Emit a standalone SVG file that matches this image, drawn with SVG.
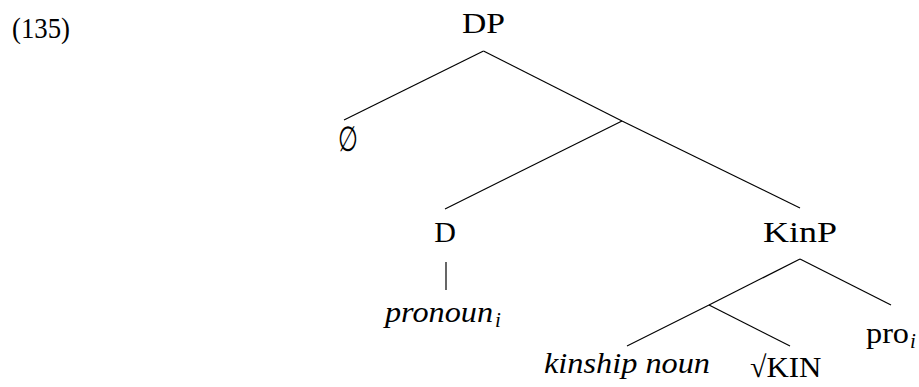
<svg xmlns="http://www.w3.org/2000/svg" width="919" height="387" viewBox="0 0 919 387">
<style>
  .lbl { font-family: 'Liberation Serif', 'Times New Roman', serif; font-size: 30px; fill: #000; }
  .it { font-style: italic; }
  .sub { font-family: 'Liberation Serif', 'Times New Roman', serif; font-size: 21px; font-style: italic; fill: #000; }
  .mid { text-anchor: middle; }
  .edge { stroke: #000; stroke-width: 1.2; }
</style>
<rect width="919" height="387" fill="#fff"/>
<g id="example-number"><text class="lbl" x="12" y="38" textLength="58" lengthAdjust="spacingAndGlyphs">(135)</text></g>
<g id="edges">
  <line class="edge" x1="483.5" y1="51" x2="344" y2="120"/>
  <line class="edge" x1="483.5" y1="51" x2="622" y2="121"/>
  <line class="edge" x1="622" y1="121" x2="445" y2="209"/>
  <line class="edge" x1="622" y1="121" x2="800" y2="208"/>
  <line class="edge" x1="446" y1="262" x2="446" y2="290"/>
  <line class="edge" x1="800" y1="259" x2="709" y2="305"/>
  <line class="edge" x1="800" y1="259" x2="891" y2="305"/>
  <line class="edge" x1="709" y1="305" x2="627" y2="346"/>
  <line class="edge" x1="709" y1="305" x2="790" y2="346"/>
</g>
<g id="node-DP"><text class="lbl mid" x="483.5" y="33" textLength="43" lengthAdjust="spacingAndGlyphs">DP</text></g>
<g id="node-empty"><text class="lbl mid" transform="translate(348,151) scale(0.75,1.15)" x="0" y="0">∅</text></g>
<g id="node-D"><text class="lbl mid" x="445" y="242">D</text></g>
<g id="node-KinP"><text class="lbl mid" x="800" y="242" textLength="74" lengthAdjust="spacingAndGlyphs">KinP</text></g>
<g id="node-pronoun">
  <text class="lbl it" x="385" y="322" textLength="108" lengthAdjust="spacingAndGlyphs">pronoun</text>
  <text class="sub" x="495" y="327">i</text>
</g>
<g id="node-pro">
  <text class="lbl" x="866" y="343" textLength="43" lengthAdjust="spacingAndGlyphs">pro</text>
  <text class="sub" x="910" y="348">i</text>
</g>
<g id="node-kinship-noun"><text class="lbl it mid" x="627" y="373" textLength="166" lengthAdjust="spacingAndGlyphs">kinship noun</text></g>
<g id="node-KIN"><text class="lbl" x="750" y="377"><tspan>√</tspan><tspan textLength="55" lengthAdjust="spacingAndGlyphs">KIN</tspan></text></g>
</svg>
